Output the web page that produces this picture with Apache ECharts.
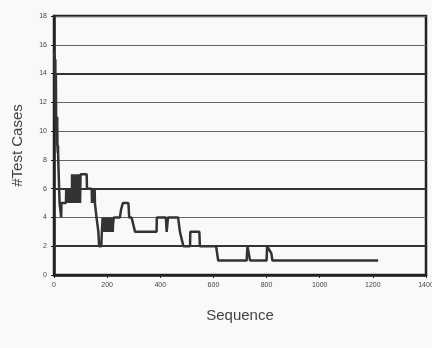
<!DOCTYPE html>
<html>
<head>
<meta charset="utf-8">
<script src="https://cdn.jsdelivr.net/npm/echarts@6/dist/echarts.min.js"></script>
<style>
  html, body { margin: 0; padding: 0; background: #faf9f7; }
  #chart { width: 432px; height: 348px; }
</style>
</head>
<body>
<div id="chart"></div>
<script>
// sequence positions and number of test cases
var seqX = [
  0, 2, 3, 4, 5, 6, 7, 8, 9, 10, 11, 12, 13, 14, 15, 16, 18, 21, 26, 27, 28, 45,
  46, 48, 50, 52, 54, 56, 58, 60, 62, 64, 66, 67,
  68, 70, 72, 74, 76, 78, 80, 82, 84, 86, 88, 90, 92, 94, 96, 98, 100,
  123, 124, 142, 143, 145, 147, 149, 151, 153, 154, 160, 167, 170, 178, 180,
  183, 185, 187, 189, 191, 193, 195, 197, 199, 201, 203, 205, 207, 209, 211, 213, 215, 217, 219, 221,
  222, 225, 248, 252, 259, 280, 283, 292, 305, 386, 387, 421, 424, 427, 429, 467, 474, 487,
  512, 513, 547, 549, 610, 618, 725, 728, 734, 738, 800, 802, 806, 818, 822, 1220
];
var testCases = [
  15.5, 15.5, 15, 12, 15, 11, 14, 11, 10, 11, 9, 11, 9, 8.5, 9, 8, 8, 5, 5, 4, 5, 5,
  6, 5, 6, 5, 6, 5, 6, 5, 6, 5, 6, 5,
  7, 5, 7, 5, 7, 5, 7, 5, 7, 5, 7, 5, 7, 5, 7, 5, 7,
  7, 6, 6, 5, 6, 5, 6, 5, 6, 5, 4, 3, 2, 2, 3,
  4, 3, 4, 3, 4, 3, 4, 3, 4, 3, 4, 3, 4, 3, 4, 3, 4, 3, 4, 3,
  3.5, 4, 4, 4.5, 5, 5, 4, 4, 3, 3, 4, 4, 3, 3, 4, 4, 3, 2,
  2, 3, 3, 2, 2, 1, 1, 2, 2, 1, 1, 2, 2, 1.5, 1, 1
];
var boldLines = [2, 6, 14];

var points = seqX.map(function (x, i) { return [x, testCases[i]]; });

var chart = echarts.init(document.getElementById('chart'));
chart.setOption({
  backgroundColor: '#faf9f7',
  animation: false,
  grid: {
    left: 54, right: 6, top: 16, bottom: 73,
    outerBoundsMode: 'none', containLabel: false,
    show: true, borderColor: '#222', borderWidth: 2.5, backgroundColor: 'transparent'
  },
  xAxis: {
    type: 'value', min: 0, max: 1400, interval: 200,
    name: 'Sequence', nameLocation: 'middle', nameGap: 33,
    nameTextStyle: { fontFamily: 'Liberation Sans', fontSize: 15, color: '#444' },
    axisLine: { show: true, lineStyle: { color: '#222', width: 2.5 } },
    axisTick: { show: true, length: 3, lineStyle: { color: '#222', width: 1 } },
    axisLabel: {
      fontFamily: 'Liberation Sans', fontSize: 7, color: '#444', margin: 7,
      formatter: function (v) { return String(v); }
    },
    splitLine: { show: false }
  },
  yAxis: {
    type: 'value', min: 0, max: 18, interval: 2,
    name: '#Test Cases', nameLocation: 'middle', nameGap: 29, nameRotate: 90,
    nameTextStyle: { fontFamily: 'Liberation Sans', fontSize: 15, color: '#444' },
    axisLine: { show: true, lineStyle: { color: '#222', width: 2.5 } },
    axisTick: { show: true, length: 3, lineStyle: { color: '#222', width: 1 } },
    axisLabel: { fontFamily: 'Liberation Sans', fontSize: 7, color: '#444', margin: 7 },
    splitLine: { show: true, lineStyle: { color: '#666', width: 1 } }
  },
  series: [{
    type: 'line',
    data: points,
    showSymbol: false,
    lineStyle: { color: '#333', width: 2.5 },
    z: 5,
    markLine: {
      silent: true, symbol: 'none', label: { show: false },
      lineStyle: { color: '#333', width: 2, type: 'solid' },
      data: boldLines.map(function (v) { return { yAxis: v }; })
    }
  }]
});
</script>
</body>
</html>
